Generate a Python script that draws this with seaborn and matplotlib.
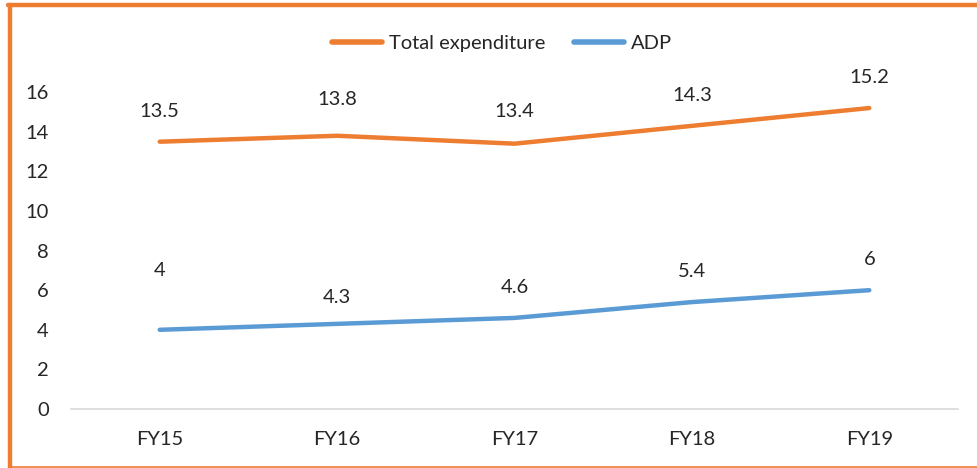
import matplotlib
matplotlib.use("Agg")
import matplotlib.pyplot as plt
from matplotlib.lines import Line2D
import seaborn as sns
import pandas as pd

categories = ["FY15", "FY16", "FY17", "FY18", "FY19"]
total_expenditure = [13.5, 13.8, 13.4, 14.3, 15.2]
adp = [4, 4.3, 4.6, 5.4, 6]
yticks = [0, 2, 4, 6, 8, 10, 12, 14, 16]

sns.set_theme(style="white")
plt.rcParams['font.family'] = ['Lato', 'DejaVu Sans']

df = pd.DataFrame({
    "Year": categories * 2,
    "Value": total_expenditure + adp,
    "Series": ["Total expenditure"] * len(categories) + ["ADP"] * len(categories),
})

FS = 14.5

fig = plt.figure(figsize=(9.77, 4.68), dpi=100)
ax = fig.add_axes([71/977, (468-409)/468, (958-71)/977, (409-52.6)/468])

palette = {"Total expenditure": "#ED7D31", "ADP": "#5B9BD5"}
sns.lineplot(data=df, x="Year", y="Value", hue="Series", palette=palette,
             linewidth=3.2, ax=ax, sort=False)

ax.set_xlim(-0.5, 4.5)
ax.set_ylim(0, 18)
ax.set_yticks(yticks)
ax.set_yticklabels([str(t) for t in yticks], fontsize=FS)
ax.tick_params(axis='x', labelsize=FS, pad=16, length=0)
ax.tick_params(axis='y', pad=16, length=0)
for lbl in ax.get_yticklabels():
    lbl.set_horizontalalignment('right')
ax.set_xlabel("")
ax.set_ylabel("")
for s in ["top", "right", "left"]:
    ax.spines[s].set_visible(False)
ax.spines["bottom"].set_color("#D9D9D9")
ax.spines["bottom"].set_linewidth(1.2)

# data labels
te_offsets = [22, 26, 23, 22, 22]
adp_offsets = [43, 19, 22, 22, 22]
for i, v in enumerate(total_expenditure):
    ax.annotate(f"{v:g}", (i, v), xytext=(0, te_offsets[i]), textcoords="offset points",
                ha="center", va="center", fontsize=FS)
for i, v in enumerate(adp):
    ax.annotate(f"{v:g}", (i, v), xytext=(0, adp_offsets[i]), textcoords="offset points",
                ha="center", va="center", fontsize=FS)

leg = ax.legend(loc="center", bbox_to_anchor=(502/977, 1 - 43/468), bbox_transform=fig.transFigure,
                ncol=2, frameon=False, fontsize=FS, handlelength=2.45, columnspacing=1.45,
                handletextpad=0.35)
for h in leg.get_lines():
    h.set_linewidth(4)

# frame border
fig.add_artist(Line2D([10/977, 10/977], [0, 1 - 5/468], transform=fig.transFigure,
                      color="#ED7D31", linewidth=3.2))
fig.add_artist(Line2D([8/977, 1], [1 - 5/468, 1 - 5/468], transform=fig.transFigure,
                      color="#ED7D31", linewidth=3.2))
fig.add_artist(Line2D([10/977, 1], [1.5/468, 1.5/468], transform=fig.transFigure,
                      color="#ED7D31", linewidth=1.2))

fig.savefig("out.png", dpi=100)
